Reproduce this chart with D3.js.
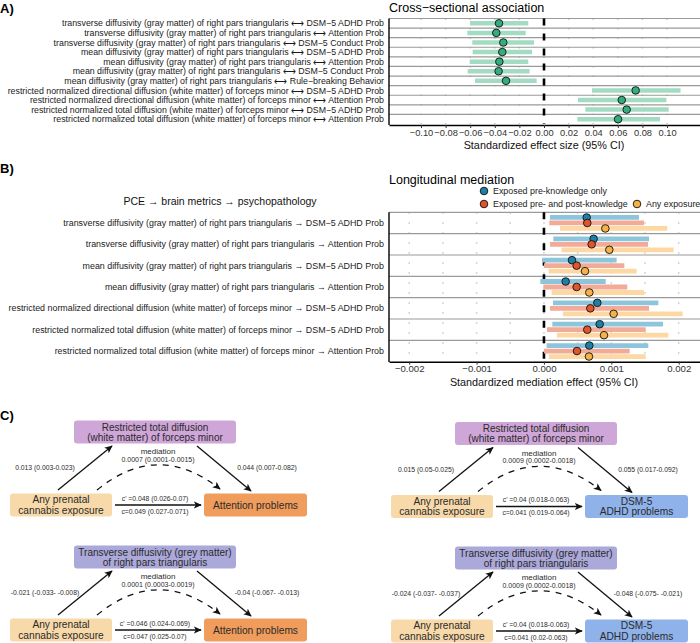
<!DOCTYPE html>
<html><head><meta charset="utf-8">
<script src="https://cdn.jsdelivr.net/npm/d3@7"></script>
<style>
body{margin:0;background:#fff}
svg{display:block}
text{font-family:"Liberation Sans",Arial,Helvetica,sans-serif}
</style>
</head><body>
<svg id="c" width="700" height="643"></svg>
<script>
// ---------- Panel A data ----------
const crossLabels = [
  "transverse diffusivity (gray matter) of right pars triangularis ⟷ DSM−5 ADHD Prob",
  "transverse diffusivity (gray matter) of right pars triangularis ⟷ Attention Prob",
  "transverse diffusivity (gray matter) of right pars triangularis ⟷ DSM−5 Conduct Prob",
  "mean diffusivity (gray matter) of right pars triangularis ⟷ DSM−5 ADHD Prob",
  "mean diffusivity (gray matter) of right pars triangularis ⟷ Attention Prob",
  "mean diffusivity (gray matter) of right pars triangularis ⟷ DSM−5 Conduct Prob",
  "mean diffusivity (gray matter) of right pars triangularis ⟷ Rule−breaking Behavior",
  "restricted normalized directional diffusion (white matter) of forceps minor ⟷ DSM−5 ADHD Prob",
  "restricted normalized directional diffusion (white matter) of forceps minor ⟷ Attention Prob",
  "restricted normalized total diffusion (white matter) of forceps minor ⟷ DSM−5 ADHD Prob",
  "restricted normalized total diffusion (white matter) of forceps minor ⟷ Attention Prob"
];
const crossEst = [-0.0366,-0.0388,-0.0331,-0.0339,-0.0363,-0.0369,-0.0309,0.0745,0.0632,0.0672,0.0602];
const crossLo  = [-0.0602,-0.0623,-0.0583,-0.0580,-0.0604,-0.0620,-0.0561,0.0390,0.0276,0.0336,0.0271];
const crossHi  = [-0.0128,-0.0149,-0.0081,-0.0098,-0.0128,-0.0117,-0.0060,0.1110,0.0995,0.1014,0.0943];
const crossTicks = [-0.10,-0.08,-0.06,-0.04,-0.02,0.00,0.02,0.04,0.06,0.08,0.10];

// ---------- Panel B data ----------
const medLabels = [
  "transverse diffusivity (gray matter) of right pars triangularis → DSM−5 ADHD Prob",
  "transverse diffusivity (gray matter) of right pars triangularis  → Attention Prob",
  "mean diffusivity (gray matter) of right pars triangularis → DSM−5 ADHD Prob",
  "mean diffusivity (gray matter) of right pars triangularis → Attention Prob",
  "restricted normalized directional diffusion (white matter) of forceps minor → DSM−5 ADHD Prob",
  "restricted normalized total diffusion (white matter) of forceps minor → DSM−5 ADHD Prob",
  "restricted normalized total diffusion (white matter) of forceps minor → Attention Prob"
];
const seriesNames = ["Exposed pre-knowledge only","Exposed pre- and post-knowledge","Any exposure"];
const preEst  = [0.000634,0.000737,0.000416,0.000322,0.000792,0.000827,0.000673];
const preLo   = [0.000089,0.000139,-0.000025,-0.000054,0.000134,0.000124,0.000040];
const preHi   = [0.001410,0.001559,0.001079,0.000916,0.001698,0.001767,0.001549];
const bothEst = [0.000643,0.000708,0.000485,0.000485,0.000688,0.000643,0.000490];
const bothLo  = [0.000079,0.000089,0.000000,-0.000010,0.000089,0.000045,0.000000];
const bothHi  = [0.001485,0.001544,0.001193,0.001237,0.001559,0.001510,0.001272];
const anyEst  = [0.000911,0.000970,0.000609,0.000673,0.001034,0.000891,0.000668];
const anyLo   = [0.000238,0.000262,0.000069,0.000114,0.000282,0.000193,0.000074];
const anyHi   = [0.001830,0.001925,0.001376,0.001485,0.002059,0.001846,0.001510];
const medTicks = [-0.002,-0.001,0.000,0.001,0.002];
const medGrid = [-0.002,-0.0015,-0.001,-0.0005,0,0.0005,0.001,0.0015,0.002];

// ---------- Panel C data ----------
const mediatorNames = [
  ["Restricted total diffusion","(white matter) of forceps minor"],
  ["Restricted total diffusion","(white matter) of forceps minor"],
  ["Transverse diffusivity (grey matter)","of right pars triangularis"],
  ["Transverse diffusivity (grey matter)","of right pars triangularis"]
];
const exposureName = ["Any prenatal","cannabis exposure"];
const outcomeNames = [["Attention problems"],["DSM-5","ADHD problems"],["Attention problems"],["DSM-5","ADHD problems"]];
const aPaths = ["0.013 (0.003-0.023)","0.015 (0.05-0.025)","-0.021 (-0.033- -0.008)","-0.024 (-0.037- -0.037)"];
const bPaths = ["0.044 (0.007-0.082)","0.055 (0.017-0.092)","-0.04 (-0.067- -0.013)","-0.048 (-0.075- -0.021)"];
const medEffects = ["0.0007 (0.0001-0.0015)","0.0009 (0.0002-0.0018)","0.0001 (0.0003-0.0019)","0.0009 (0.0002-0.0018)"];
const cPrimes = ["c' =0.048 (0.026-0.07)","c' =0.04 (0.018-0.063)","c' =0.046 (0.024-0.069)","c' =0.04 (0.018-0.063)"];
const cTotals = ["c=0.049 (0.027-0.071)","c=0.041 (0.019-0.064)","c=0.047 (0.025-0.07)","c=0.041 (0.02-0.063)"];

// ---------- drawing ----------
const svg = d3.select("#c");
const FONT_DARK = "#1a1a1a";

function panelTag(t, x, y){
  svg.append("text").attr("x",x).attr("y",y).attr("font-size",13).attr("font-weight","bold").attr("fill","#000").text(t);
}

// ===== Panel A =====
panelTag("A)", 0, 13);
svg.append("text").attr("x",389).attr("y",11.5).attr("font-size",12.5).attr("fill","#000").text("Cross−sectional association");

const xA = d3.scaleLinear().domain([-0.126,0.1268]).range([389,700]);
const yA = d3.scaleBand().domain(d3.range(crossLabels.length)).range([18.5,124]);
const gA = svg.append("g");

gA.selectAll("line.grid").data(crossTicks).join("line")
  .attr("x1",d=>xA(d)).attr("x2",d=>xA(d)).attr("y1",18.5).attr("y2",124)
  .attr("stroke","#c8c8c8").attr("stroke-width",1.5).attr("stroke-dasharray","1.5,8");
gA.selectAll("line.sep").data(d3.range(crossLabels.length)).join("line")
  .attr("x1",389).attr("x2",700).attr("y1",i=>yA(i)).attr("y2",i=>yA(i))
  .attr("stroke","#9a9a9a").attr("stroke-width",1.2);
gA.append("line").attr("x1",xA(0)).attr("x2",xA(0)).attr("y1",18.5).attr("y2",124)
  .attr("stroke","#000").attr("stroke-width",2.6).attr("stroke-dasharray","7,8");
gA.selectAll("line.ci").data(crossLabels).join("line")
  .attr("x1",(d,i)=>xA(crossLo[i])).attr("x2",(d,i)=>xA(crossHi[i]))
  .attr("y1",(d,i)=>yA(i)+yA.bandwidth()/2).attr("y2",(d,i)=>yA(i)+yA.bandwidth()/2)
  .attr("stroke","#a3dcc2").attr("stroke-width",4.5);
gA.selectAll("circle").data(crossLabels).join("circle")
  .attr("cx",(d,i)=>xA(crossEst[i])).attr("cy",(d,i)=>yA(i)+yA.bandwidth()/2).attr("r",3.8)
  .attr("fill","#33ad80").attr("stroke","#111").attr("stroke-width",0.9);
gA.selectAll("text.lab").data(crossLabels).join("text")
  .attr("x",384).attr("y",(d,i)=>yA(i)+yA.bandwidth()/2).attr("dy","0.35em")
  .attr("text-anchor","end").attr("font-size",8.8).attr("fill",FONT_DARK).text(d=>d);
gA.append("line").attr("x1",389).attr("x2",389).attr("y1",18.5).attr("y2",125)
  .attr("stroke","#000").attr("stroke-width",1.4);
const axA = svg.append("g").attr("transform","translate(0,125)")
  .call(d3.axisBottom(xA).tickValues(crossTicks).tickFormat(d3.format(".2f")).tickSize(3).tickSizeOuter(0));
axA.select(".domain").attr("stroke","#000").attr("stroke-width",1.4);
axA.selectAll(".tick line").attr("stroke","#333");
axA.selectAll(".tick text").attr("font-size",9.3).attr("fill","#333").attr("font-family","Liberation Sans, Arial, sans-serif").attr("dy","0.55em");
svg.append("text").attr("x",544).attr("y",149).attr("text-anchor","middle").attr("font-size",10.8).attr("fill","#111")
  .text("Standardized effect size (95% CI)");

// ===== Panel B =====
panelTag("B)", 0, 173);
svg.append("text").attr("x",389).attr("y",184).attr("font-size",12.5).attr("fill","#000").text("Longitudinal mediation");
svg.append("text").attr("x",220).attr("y",205).attr("text-anchor","middle").attr("font-size",10.5).attr("fill","#111")
  .text("PCE → brain metrics → psychopathology");

const seriesColors = ["#1d7fa6","#e2542b","#f6b247"];
const seriesLight  = ["#8dc5dc","#f2ab98","#fdd8a2"];
const legendPos = [[484,191],[484,204],[637,204]];
const lg = svg.append("g");
seriesNames.forEach((s,k)=>{
  lg.append("circle").attr("cx",legendPos[k][0]).attr("cy",legendPos[k][1]).attr("r",3.8)
    .attr("fill",seriesColors[k]).attr("stroke","#111").attr("stroke-width",0.9);
  lg.append("text").attr("x",legendPos[k][0]+9).attr("y",legendPos[k][1]).attr("dy","0.35em")
    .attr("font-size",8.9).attr("fill","#222").text(s);
});

const xB = d3.scaleLinear().domain([-0.0023,0.002316]).range([389,700]);
const yB = d3.scaleBand().domain(d3.range(medLabels.length)).range([212.3,361.7]);
const seriesB = [
  {est:preEst, lo:preLo, hi:preHi},
  {est:bothEst, lo:bothLo, hi:bothHi},
  {est:anyEst, lo:anyLo, hi:anyHi}
];
const offB = d3.scalePoint().domain([0,1,2]).range([-5.5,5.5]);
const gB = svg.append("g");
gB.selectAll("line.grid").data(medGrid).join("line")
  .attr("x1",d=>xB(d)).attr("x2",d=>xB(d)).attr("y1",212.3).attr("y2",361.7)
  .attr("stroke","#c8c8c8").attr("stroke-width",1.5).attr("stroke-dasharray","1.5,8.5");
gB.selectAll("line.sep").data(d3.range(medLabels.length)).join("line")
  .attr("x1",389).attr("x2",700).attr("y1",i=>yB(i)).attr("y2",i=>yB(i))
  .attr("stroke","#9a9a9a").attr("stroke-width",1.2);
gB.append("line").attr("x1",xB(0)).attr("x2",xB(0)).attr("y1",212.3).attr("y2",361.7)
  .attr("stroke","#000").attr("stroke-width",2.6).attr("stroke-dasharray","7,8.5");
seriesB.forEach((s,k)=>{
  gB.append("g").selectAll("line").data(medLabels).join("line")
    .attr("x1",(d,i)=>xB(s.lo[i])).attr("x2",(d,i)=>xB(s.hi[i]))
    .attr("y1",(d,i)=>yB(i)+yB.bandwidth()/2+offB(k)).attr("y2",(d,i)=>yB(i)+yB.bandwidth()/2+offB(k))
    .attr("stroke",seriesLight[k]).attr("stroke-width",4.8);
});
seriesB.forEach((s,k)=>{
  gB.append("g").selectAll("circle").data(medLabels).join("circle")
    .attr("cx",(d,i)=>xB(s.est[i])).attr("cy",(d,i)=>yB(i)+yB.bandwidth()/2+offB(k)).attr("r",3.8)
    .attr("fill",seriesColors[k]).attr("stroke","#111").attr("stroke-width",0.9);
});
gB.selectAll("text.lab").data(medLabels).join("text")
  .attr("x",384).attr("y",(d,i)=>yB(i)+yB.bandwidth()/2).attr("dy","0.35em")
  .attr("text-anchor","end").attr("font-size",8.9).attr("fill",FONT_DARK).text(d=>d);
gB.append("line").attr("x1",389).attr("x2",389).attr("y1",212.3).attr("y2",362)
  .attr("stroke","#000").attr("stroke-width",1.4);
const axB = svg.append("g").attr("transform","translate(0,361.7)")
  .call(d3.axisBottom(xB).tickValues(medTicks).tickFormat(d3.format(".3f")).tickSize(3).tickSizeOuter(0));
axB.select(".domain").attr("stroke","#000").attr("stroke-width",1.4);
axB.selectAll(".tick line").attr("stroke","#333");
axB.selectAll(".tick text").attr("font-size",9.6).attr("fill","#333").attr("font-family","Liberation Sans, Arial, sans-serif").attr("dy","0.4em");
svg.append("text").attr("x",544).attr("y",385.5).attr("text-anchor","middle").attr("font-size",10.8).attr("fill","#111")
  .text("Standardized mediation effect (95% CI)");

// ===== Panel C =====
panelTag("C)", 0, 420);
const defs = svg.append("defs");
defs.append("marker").attr("id","arr").attr("viewBox","0 0 10 10").attr("refX",9).attr("refY",5)
  .attr("markerWidth",8).attr("markerHeight",8).attr("markerUnits","userSpaceOnUse").attr("orient","auto")
  .append("path").attr("d","M0,0.5 L10,5 L0,9.5 L2.5,5 Z").attr("fill","#111");

const medBoxColors = ["#cfa6d8","#cfa6d8","#aba8da","#aba8da"];
const outBoxColors = ["#f09c5c","#8fb2ea","#f09c5c","#8fb2ea"];
const expColor = "#f8d9aa";
const offsetsC = [[0,0],[381,1.5],[0,125],[381,126]];

function box(g,x,y,w,h,fill,lines,fs,lh){
  g.append("rect").attr("x",x).attr("y",y).attr("width",w).attr("height",h).attr("rx",3).attr("fill",fill);
  const cy = y+h/2;
  lines.forEach((t,i)=>{
    g.append("text").attr("x",x+w/2).attr("y",cy+(i-(lines.length-1)/2)*lh).attr("dy","0.36em")
      .attr("text-anchor","middle").attr("font-size",fs).attr("fill","#2b2b2b").text(t);
  });
}
function small(g,x,y,t,fs){
  g.append("text").attr("x",x).attr("y",y).attr("dy","0.35em").attr("text-anchor","middle")
    .attr("font-size",fs).attr("fill","#2b2b2b").text(t);
}
offsetsC.forEach((o,k)=>{
  const g = svg.append("g").attr("transform",`translate(${o[0]},${o[1]})`);
  box(g,74,420.5,162,23,medBoxColors[k],mediatorNames[k],10,9.8);
  box(g,10,493.5,102,23,expColor,exposureName,10.2,10.4);
  box(g,204,493.5,103,23,outBoxColors[k],outcomeNames[k],10.2,10.4);
  g.append("line").attr("x1",58).attr("y1",490).attr("x2",112).attr("y2",446)
    .attr("stroke","#111").attr("stroke-width",1.3).attr("marker-end","url(#arr)");
  g.append("line").attr("x1",197).attr("y1",446).attr("x2",251).attr("y2",491)
    .attr("stroke","#111").attr("stroke-width",1.3).attr("marker-end","url(#arr)");
  g.append("line").attr("x1",115).attr("y1",505).attr("x2",201).attr("y2",505)
    .attr("stroke","#111").attr("stroke-width",1.3).attr("marker-end","url(#arr)");
  g.append("path").attr("d","M97,490 Q158,440 220,489").attr("fill","none")
    .attr("stroke","#111").attr("stroke-width",1.3).attr("stroke-dasharray","6,6").attr("marker-end","url(#arr)");
  small(g,45,468,aPaths[k],6.8);
  small(g,267,468,bPaths[k],6.8);
  small(g,158,451.5,"mediation",8);
  small(g,158,459.5,medEffects[k],7);
  small(g,155,498.5,cPrimes[k],6.8);
  small(g,155,511.5,cTotals[k],6.8);
});
</script>
</body></html>
